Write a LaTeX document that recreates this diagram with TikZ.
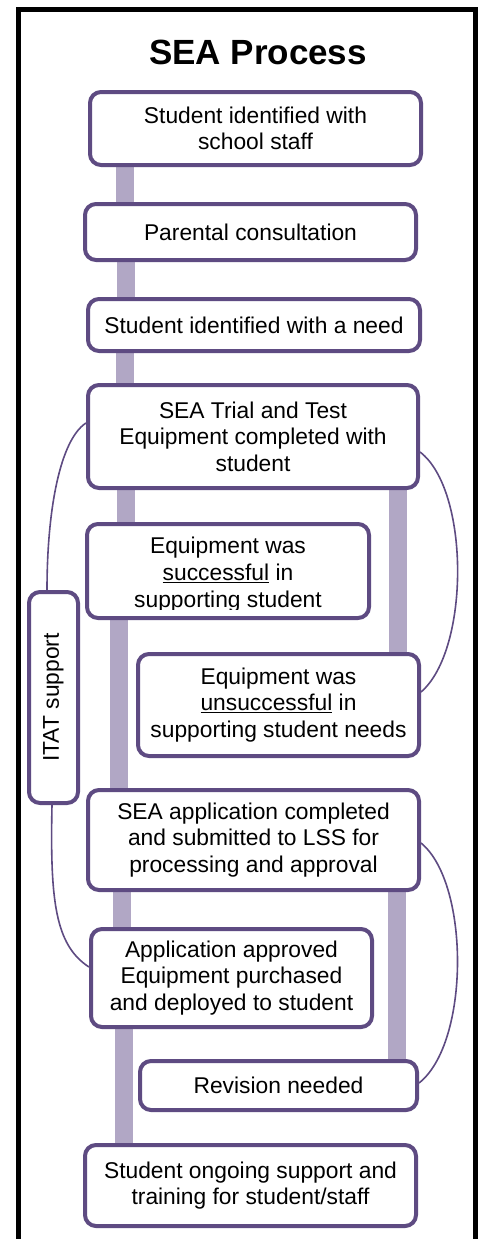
\documentclass[tikz,border=0pt]{standalone}
\usepackage{fontspec}
\usepackage{graphicx}
\setmainfont{Liberation Sans}
\usetikzlibrary{backgrounds,calc}
\definecolor{boxc}{RGB}{94,75,130}
\definecolor{barc}{RGB}{177,167,197}
\newcommand\boxfont{\fontsize{22.8}{26.6}\selectfont}
\begin{document}
\begin{tikzpicture}[x=1pt,y=-1pt,
  box/.style={draw=boxc,line width=4pt,rounded corners=11pt,fill=white,align=center,inner sep=0pt,font=\boxfont},
  bar/.style={draw=barc,line width=18pt},
  link/.style={draw=boxc,line width=1.6pt}]
\useasboundingbox (0,0) rectangle (480,1239);

\node[font=\fontsize{35}{40}\selectfont\bfseries] (title) at (258,52) {SEA Process};

\node[box,minimum width=331,minimum height=73] (b1) at (255.5,128.5) {Student identified with\\school staff};
\node[box,minimum width=331,minimum height=56] (b2) at (250.5,232) {Parental consultation};
\node[box,minimum width=332,minimum height=52] (b3) at (254,325) {Student identified with a need};
\node[box,minimum width=330,minimum height=103] (b4) at (253,436.5) {SEA Trial and Test\\Equipment completed with\\student};
\node[box,minimum width=282,minimum height=94] (b5) at (228,571) {};
\begin{scope}
  \clip ([yshift=11pt]b5.south west) rectangle (b5.north east);
  \node[align=center,inner sep=0pt,font=\boxfont] (b5t) at ([yshift=-3.5pt]b5.center) {Equipment was\\\underline{successful} in\\supporting student};
\end{scope}
\node[box,minimum width=281,minimum height=102] (b6) at (278.5,705) {Equipment was\\\underline{unsuccessful} in\\supporting student needs};
\node[box,minimum width=49,minimum height=211] (itat) at (53.5,697.5) {\rotatebox{90}{ITAT support}};
\node[box,minimum width=331,minimum height=100] (b7) at (253.5,840) {SEA application completed\\and submitted to LSS for\\processing and approval};
\node[box,minimum width=281,minimum height=98] (b8) at (231.5,978) {Application approved\\Equipment purchased\\and deployed to student};
\node[box,minimum width=277,minimum height=49] (b9) at (278.5,1085.5) {Revision needed};
\node[box,minimum width=331,minimum height=81] (b10) at (250.5,1185.5) {Student ongoing support and\\training for student/staff};

\coordinate (xA) at (125,0);
\coordinate (xB) at (126,0);
\coordinate (xC) at (119,0);
\coordinate (xD) at (121.5,0);
\coordinate (xE) at (123.5,0);
\coordinate (xR1) at (398,0);
\coordinate (xR2) at (396.5,0);
\coordinate (cl1) at (47,0);
\coordinate (cl2) at (52,0);

\begin{scope}[on background layer]
  \fill[white] (0,0) rectangle (480,1239);
  \draw[line width=5pt] (18.5,1245) -- (18.5,10) -- (475.5,10) -- (475.5,1245);
  \draw[bar] (b1.south -| xA) -- (b2.north -| xA);
  \draw[bar] (b2.south -| xB) -- (b3.north -| xB);
  \draw[bar] (b3.south -| xA) -- (b4.north -| xA);
  \draw[bar] (b4.south -| xB) -- (b5.north -| xB);
  \draw[bar] (b5.south -| xC) -- (b7.north -| xC);
  \draw[bar] (b4.south -| xR1) -- (b6.north -| xR1);
  \draw[bar] (b7.south -| xD) -- (b8.north -| xD);
  \draw[bar] (b8.south -| xE) -- (b10.north -| xE);
  \draw[bar] (b7.south -| xR2) -- (b9.north -| xR2);
\end{scope}

\draw[link] ([yshift=13.5pt]b4.west) .. controls (60,440) and (47,510) .. (itat.north -| cl1);
\draw[link] (itat.south -| cl2) .. controls (50,900) and (55,945) .. ([yshift=11pt]b8.west);
\draw[link] ([yshift=-15.5pt]b4.east) .. controls (470,490) and (470,650) .. ([yshift=13pt]b6.east);
\draw[link] ([yshift=-3pt]b7.east) .. controls (470,883) and (470,1043) .. ([yshift=2.5pt]b9.east);
\end{tikzpicture}
\end{document}
